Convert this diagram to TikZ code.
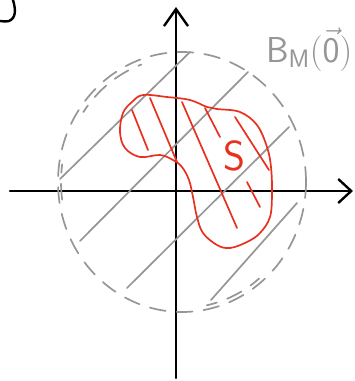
\RequirePackage{fix-cm}
\documentclass[tikz,border=0pt]{standalone}
\usetikzlibrary{arrows.meta}

\definecolor{ballgray}{RGB}{150,150,150}
\definecolor{setred}{RGB}{232,48,30}

\begin{document}
\begin{tikzpicture}[x=1pt, y=-1pt,
    axis/.style={line width=2.4pt, black, line cap=round},
    chord/.style={line width=1.7pt, ballgray, line cap=round},
    ballline/.style={line width=1.7pt, ballgray, dash pattern=on 16pt off 11pt, line cap=round},
    setline/.style={line width=1.7pt, setred, line cap=round, line join=round}]
    \useasboundingbox (0,0) rectangle (355,381);

    % Centre and radii of the ball
    \def\cx{182}
    \def\cy{182}
    \def\rx{124}
    \def\ry{130}

    % Leftover stroke in the corner
    \draw[axis] (13,0) .. controls (16,10) and (16,18) .. (9,21) .. controls (5,22) and (2,21) .. (0,21);

    % Axes
    \coordinate (xl) at (10,191);
    \coordinate (xr) at (353,191);
    \coordinate (yb) at (176,378);
    \coordinate (yt) at (176,7);
    \draw[axis, -{Straight Barb[length=13pt, width=24pt, line width=2.4pt]}] (xl) -- (xr);
    \draw[axis, -{Straight Barb[length=17pt, width=24pt, line width=2.4pt]}] (yb) -- (yt);

    % The dashed ball, with a few doubled strokes
    \draw[ballline] (\cx,\cy) ellipse[x radius=\rx, y radius=\ry];
    \draw[ballline, dash phase=8pt] (\cx,\cy) ++(214:\rx-5 and \ry-5) arc[start angle=214, end angle=250, x radius=\rx-5, y radius=\ry-5];
    \draw[ballline, dash phase=5pt] (\cx,\cy) ++(50:\rx-4 and \ry-4) arc[start angle=50, end angle=78, x radius=\rx-4, y radius=\ry-4];
    \draw[ballline] (\cx,\cy) ++(172:\rx-3 and \ry-3) arc[start angle=172, end angle=188, x radius=\rx-3, y radius=\ry-3];

    % Hatching of the ball
    \draw[chord] (60,179) -- (190,52);
    \draw[chord] (80,241) -- (248,72);
    \draw[chord] (127,288) -- (289,127);
    \draw[chord] (211,300) -- (297,203);

    % The set S
    \draw[setline] plot[smooth cycle, tension=0.6] coordinates {
        (143,95) (167,97) (190,100) (207,107) (217,109) (240,112) (257,125)
        (267,147) (271,167) (272,193) (270,217) (260,233) (247,242) (230,248)
        (217,245) (203,233) (197,217) (193,197) (189,180) (182,167) (173,160)
        (160,155) (140,157) (125,148) (120,132) (123,113) (132,102)};

    % Hatching of S
    \draw[setline] (132,110) -- (148,150);
    \draw[setline] (150,98) -- (177,162);
    \draw[setline] (182,102) -- (237,228);
    \draw[setline] (205,108) -- (220,137);
    \draw[setline] (235,117) -- (269,170);
    \draw[setline] (247,182) -- (260,207);

    % Labels
    \node[setred, font=\fontsize{42}{42}\sffamily, inner sep=0] (S) at (234,156) {S};
    \node[ballgray, anchor=base west, inner sep=0, font=\fontsize{36}{36}\selectfont] (ball) at (266,62)
        {$\mathsf{B}_{\mathsf{M}}(\vec{\mathsf{0}})$};
\end{tikzpicture}
\end{document}
